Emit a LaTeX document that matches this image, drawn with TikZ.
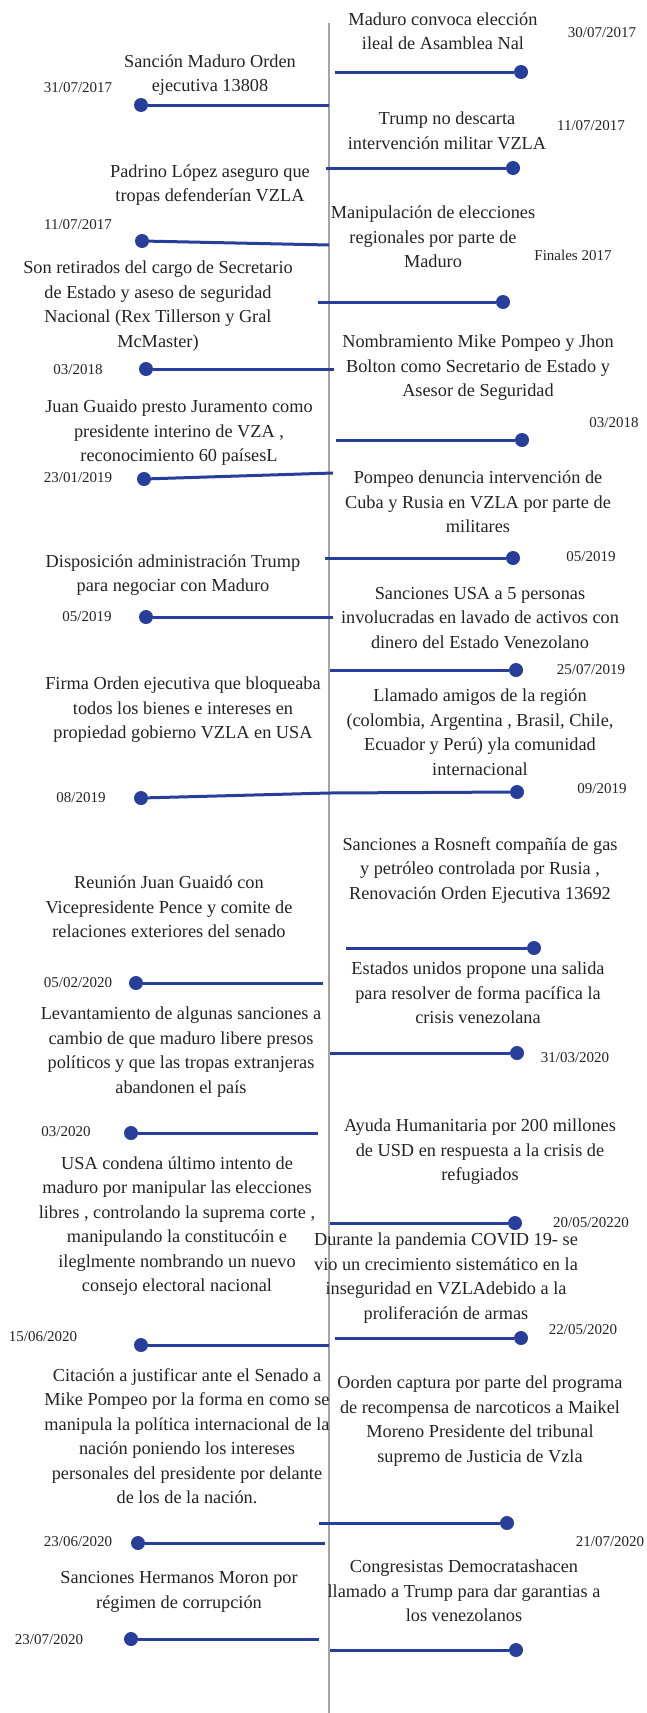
\documentclass[tikz,border=0pt]{standalone}
\usepackage{fontspec}
\setmainfont{Liberation Serif}
\definecolor{tlblue}{RGB}{40,62,155}
\definecolor{axisgray}{RGB}{165,165,165}
\definecolor{txt}{RGB}{35,35,35}
\begin{document}
\begin{tikzpicture}[x=1pt,y=-1pt,
  evt/.style={align=center,font=\fontsize{18.3}{24.5}\selectfont,text=txt,inner sep=0pt},
  datelbl/.style={font=\fontsize{15}{18}\selectfont,text=txt,inner sep=0pt},
  tldot/.style={circle,fill=tlblue,minimum size=14pt,inner sep=0pt},
  tlink/.style={draw=tlblue,line width=3pt},
  axisline/.style={draw=axisgray,line width=1.3pt}]
\useasboundingbox (0,0) rectangle (646,1713);
% axis
\coordinate (axtop) at (329,23);
\coordinate (axbot) at (329,1713);
\draw[axisline] (axtop) -- (axbot);

% ---------- right side ----------
\node[evt] (r1t) at (443,31) {Maduro convoca elección\\ileal de Asamblea Nal};
\node[datelbl] (r1d) at (602,33) {30/07/2017};
\coordinate (r1a) at (335,72);
\node[tldot] (r1p) at (521,72) {};
\draw[tlink] (r1a) -- (r1p);

\node[evt] (r2t) at (447,131) {Trump no descarta\\intervención militar VZLA};
\node[datelbl] (r2d) at (591,126) {11/07/2017};
\coordinate (r2a) at (326,168);
\node[tldot] (r2p) at (513,168) {};
\draw[tlink] (r2a) -- (r2p);

\node[evt] (r3t) at (433,237) {Manipulación de elecciones\\regionales por parte de\\Maduro};
\node[datelbl] (r3d) at (573,255) {Finales 2017};
\coordinate (r3a) at (318,302);
\node[tldot] (r3p) at (503,302) {};
\draw[tlink] (r3a) -- (r3p);

\node[evt] (r4t) at (478,368) {Nombramiento Mike Pompeo y Jhon\\Bolton como Secretario de Estado y\\Asesor de Seguridad};
\node[datelbl] (r4d) at (614,423) {03/2018};
\coordinate (r4a) at (336,440);
\node[tldot] (r4p) at (522,440) {};
\draw[tlink] (r4a) -- (r4p);

\node[evt] (r5t) at (478,502) {Pompeo denuncia intervención de\\Cuba y Rusia en VZLA por parte de\\militares};
\node[datelbl] (r5d) at (591,557) {05/2019};
\coordinate (r5a) at (325,558);
\node[tldot] (r5p) at (513,558) {};
\draw[tlink] (r5a) -- (r5p);

\node[evt] (r6t) at (480,618) {Sanciones USA a 5 personas\\involucradas en lavado de activos con\\dinero del Estado Venezolano};
\node[datelbl] (r6d) at (591,670) {25/07/2019};
\coordinate (r6a) at (330,670);
\node[tldot] (r6p) at (516,670) {};
\draw[tlink] (r6a) -- (r6p);

\node[evt] (r7t) at (480,732) {Llamado amigos de la región\\(colombia, Argentina , Brasil, Chile,\\Ecuador y Perú) yla comunidad\\internacional};
\node[datelbl] (r7d) at (602,789) {09/2019};
\coordinate (r7a) at (329,793);
\node[tldot] (r7p) at (517,792) {};
\draw[tlink] (r7a) -- (r7p);

\node[evt] (r8t) at (480,870) {Sanciones a Rosneft compañía de gas\\y petróleo controlada por Rusia ,\\Renovación Orden Ejecutiva 13692};
\coordinate (r8a) at (346,948);
\node[tldot] (r8p) at (534,948) {};
\draw[tlink] (r8a) -- (r8p);

\node[evt] (r9t) at (478,993) {Estados unidos propone una salida\\para resolver de forma pacífica la\\crisis venezolana};
\node[datelbl] (r9d) at (575,1058) {31/03/2020};
\coordinate (r9a) at (330,1053);
\node[tldot] (r9p) at (517,1053) {};
\draw[tlink] (r9a) -- (r9p);

\node[evt] (r10t) at (480,1152) {Ayuda Humanitaria por 200 millones\\de USD en respuesta a la crisis de\\refugiados};
\node[datelbl] (r10d) at (591,1223) {20/05/20220};
\coordinate (r10a) at (330,1223);
\node[tldot] (r10p) at (515,1223) {};
\draw[tlink] (r10a) -- (r10p);

\node[evt] (r11t) at (446,1278) {Durante la pandemia COVID 19- se\\vio un crecimiento sistemático en la\\inseguridad en VZLAdebido a la\\proliferación de armas};
\node[datelbl] (r11d) at (583,1330) {22/05/2020};
\coordinate (r11a) at (335,1338);
\node[tldot] (r11p) at (521,1338) {};
\draw[tlink] (r11a) -- (r11p);

\node[evt] (r12t) at (480,1421) {Oorden captura por parte del programa\\de recompensa de narcoticos a Maikel\\Moreno Presidente del tribunal\\supremo de Justicia de Vzla};
\node[datelbl] (r12d) at (610,1542) {21/07/2020};
\coordinate (r12a) at (319,1523);
\node[tldot] (r12p) at (507,1523) {};
\draw[tlink] (r12a) -- (r12p);

\node[evt] (r13t) at (464,1591) {Congresistas Democratashacen\\llamado a Trump para dar garantias a\\los venezolanos};
\coordinate (r13a) at (330,1650);
\node[tldot] (r13p) at (516,1650) {};
\draw[tlink] (r13a) -- (r13p);

% ---------- left side ----------
\node[evt] (l1t) at (210,75) {Sanción Maduro Orden\\ejecutiva 13808};
\node[datelbl] (l1d) at (78,88) {31/07/2017};
\coordinate (l1a) at (329,105);
\node[tldot] (l1p) at (141,105) {};
\draw[tlink] (l1a) -- (l1p);

\node[evt] (l2t) at (210,185) {Padrino López aseguro que\\tropas defenderían VZLA};
\node[datelbl] (l2d) at (78,225) {11/07/2017};
\coordinate (l2a) at (329,245);
\node[tldot] (l2p) at (142,241) {};
\draw[tlink] (l2a) -- (l2p);

\node[evt] (l3t) at (158,306) {Son retirados del cargo de Secretario\\de Estado y aseso de seguridad\\Nacional (Rex Tillerson y Gral\\McMaster)};
\node[datelbl] (l3d) at (78,370) {03/2018};
\coordinate (l3a) at (334,369);
\node[tldot] (l3p) at (146,369) {};
\draw[tlink] (l3a) -- (l3p);

\node[evt] (l4t) at (179,433) {Juan Guaido presto Juramento como\\presidente interino de VZA ,\\reconocimiento 60 paísesL};
\node[datelbl] (l4d) at (78,478) {23/01/2019};
\coordinate (l4a) at (333,473);
\node[tldot] (l4p) at (144,479) {};
\draw[tlink] (l4a) -- (l4p);

\node[evt] (l5t) at (173,575) {Disposición administración Trump\\para negociar con Maduro};
\node[datelbl] (l5d) at (87,617) {05/2019};
\coordinate (l5a) at (333,617);
\node[tldot] (l5p) at (146,617) {};
\draw[tlink] (l5a) -- (l5p);

\node[evt] (l6t) at (183,710) {Firma Orden ejecutiva que bloqueaba\\todos los bienes e intereses en\\propiedad gobierno VZLA en USA};
\node[datelbl] (l6d) at (81,798) {08/2019};
\coordinate (l6a) at (329,793);
\node[tldot] (l6p) at (141,798) {};
\draw[tlink] (l6a) -- (l6p);

\node[evt] (l7t) at (169,907) {Reunión Juan Guaidó con\\Vicepresidente Pence y comite de\\relaciones exteriores del senado};
\node[datelbl] (l7d) at (78,983) {05/02/2020};
\coordinate (l7a) at (323,983);
\node[tldot] (l7p) at (136,983) {};
\draw[tlink] (l7a) -- (l7p);

\node[evt] (l8t) at (181,1052) {Levantamiento de algunas sanciones a\\cambio de que maduro libere presos\\políticos y que las tropas extranjeras\\abandonen el país};
\node[datelbl] (l8d) at (66,1132) {03/2020};
\coordinate (l8a) at (318,1133);
\node[tldot] (l8p) at (131,1133) {};
\draw[tlink] (l8a) -- (l8p);

\node[evt] (l9t) at (177,1226) {USA condena último intento de\\maduro por manipular las elecciones\\libres , controlando la suprema corte ,\\manipulando la constitucóin e\\ileglmente nombrando un nuevo\\consejo electoral nacional};
\node[datelbl] (l9d) at (43,1337) {15/06/2020};
\coordinate (l9a) at (329,1345);
\node[tldot] (l9p) at (141,1345) {};
\draw[tlink] (l9a) -- (l9p);

\node[evt] (l10t) at (187,1436) {Citación a justificar ante el Senado a\\Mike Pompeo por la forma en como se\\manipula la política internacional de la\\nación poniendo los intereses\\personales del presidente por delante\\de los de la nación.};
\node[datelbl] (l10d) at (78,1542) {23/06/2020};
\coordinate (l10a) at (325,1543);
\node[tldot] (l10p) at (138,1543) {};
\draw[tlink] (l10a) -- (l10p);

\node[evt] (l11t) at (179,1592) {Sanciones Hermanos Moron por\\régimen de corrupción};
\node[datelbl] (l11d) at (49,1640) {23/07/2020};
\coordinate (l11a) at (319,1639);
\node[tldot] (l11p) at (131,1639) {};
\draw[tlink] (l11a) -- (l11p);
\end{tikzpicture}
\end{document}
